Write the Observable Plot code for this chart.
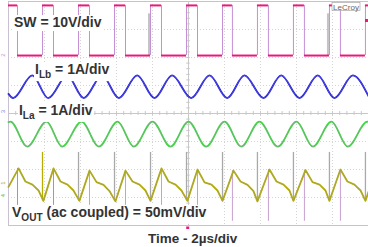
<!DOCTYPE html>
<html><head><meta charset="utf-8">
<script src="https://cdn.jsdelivr.net/npm/d3@7"></script>
<script src="https://cdn.jsdelivr.net/npm/@observablehq/plot@0.6"></script>
<style>body{margin:0;background:#fff;} svg{display:block}</style>
</head><body><div id="chart"></div>
<script>
// time in µs (2 µs/div, 10 div), amplitude in screen divisions (-4..4)
const swRise = [1.89, 3.89, 5.89, 7.89, 9.89, 11.89, 13.83, 15.83, 17.83, 19.83];
const swFall = [0.50, 2.50, 4.50, 6.50, 8.50, 10.50, 12.44, 14.44, 16.44, 18.44];
const swHigh = 3.86, swLow = 2.07;

const ilbPeakT = [1.32, 3.26, 5.20, 7.15, 9.09, 11.17, 13.11, 15.15, 17.18, 19.13];
const ilbTroughT = [0.26, 2.21, 4.18, 6.13, 8.11, 10.15, 12.15, 14.17, 16.17, 18.11];
const ilbPeak = 1.36, ilbTrough = 0.55, ilbStart = 0.70, ilbEnd = 0.62;

const ilaPeakT = [0.11, 2.11, 4.06, 6.06, 8.00, 10.00, 12.00, 13.94, 16.00, 17.94, 19.94];
const ilaTroughT = [1.04, 2.98, 5.02, 6.96, 9.00, 10.98, 12.93, 14.96, 16.91, 18.85];
const ilaPeak = -0.29, ilaTrough = -1.18, ilaStart = -0.31, ilaEnd = -0.30;

const voutT = [0,
  0.56, 0.94, 1.33, 1.67, 1.94,
  2.50, 2.89, 3.28, 3.61, 3.94,
  4.50, 4.89, 5.28, 5.61, 5.94,
  6.50, 6.89, 7.28, 7.61, 7.89,
  8.50, 8.89, 9.28, 9.61, 9.94,
  10.50, 10.89, 11.28, 11.61, 11.89,
  12.50, 12.89, 13.28, 13.61, 13.83,
  14.50, 14.89, 15.28, 15.61, 15.83,
  16.50, 16.89, 17.28, 17.61, 17.83,
  18.44, 18.83, 19.22, 19.56, 19.83,
  20];
const voutV = [-2.62,
  -1.96, -2.43, -2.54, -2.75, -3.12,
  -1.96, -2.43, -2.54, -2.75, -3.12,
  -2.04, -2.45, -2.55, -2.77, -3.14,
  -2.04, -2.43, -2.54, -2.75, -3.12,
  -1.96, -2.43, -2.54, -2.75, -3.12,
  -2.00, -2.46, -2.54, -2.75, -3.12,
  -2.04, -2.43, -2.55, -2.77, -3.14,
  -2.00, -2.43, -2.54, -2.75, -3.12,
  -2.02, -2.45, -2.54, -2.75, -3.12,
  -2.00, -2.43, -2.54, -2.75, -3.12,
  -2.80];
const spikeUpTop = -1.39, spikeDownBottom = -3.85;

// ---- derived tables ----
const swHighSeg = [{a: 0, b: swFall[0]}];
swRise.forEach((r, i) => swHighSeg.push({a: r, b: i + 1 < swFall.length ? swFall[i + 1] : 20}));
const swLowSeg = swFall.map((f, i) => ({a: f, b: swRise[i]}));
const swEdges = [...swRise, ...swFall];

function wave(peaksT, troughsT, pk, tr, s, e) {
  const pts = [{t: 0, v: s}];
  peaksT.forEach(t => pts.push({t, v: pk}));
  troughsT.forEach(t => pts.push({t, v: tr}));
  pts.push({t: 20, v: e});
  return pts.sort((p, q) => p.t - q.t);
}
const ilb = wave(ilbPeakT, ilbTroughT, ilbPeak, ilbTrough, ilbStart, ilbEnd);
const ila = wave(ilaPeakT, ilaTroughT, ilaPeak, ilaTrough, ilaStart, ilaEnd);
const vout = voutT.map((t, i) => ({t, v: voutV[i]}));
const troughAt = t => { let best = vout[0]; vout.forEach(p => { if (Math.abs(p.t - t) < Math.abs(best.t - t)) best = p; }); return best.v; };
const spikesUp = swRise.map((t, i) => ({t, v1: troughAt(t), v2: spikeUpTop, i}));
const spikesDown = swFall.map((t, i) => ({t, v1: troughAt(t), v2: spikeDownBottom, i}));

const gridX = d3.range(2, 20, 2);
const gridY = d3.range(-3, 4, 1);
const minorX = d3.range(0, 20.01, 0.4);
const minorY = d3.range(-4, 4.01, 0.2);

const chart = Plot.plot({
  width: 368, height: 247,
  marginLeft: 8, marginRight: 0, marginTop: 1, marginBottom: 22,
  x: {domain: [0, 20], axis: null},
  y: {domain: [-4, 4], axis: null},
  marks: [
    Plot.ruleX(gridX, {stroke: "#d4d4d4", strokeDasharray: "1,2"}),
    Plot.ruleY(gridY, {stroke: "#d4d4d4", strokeDasharray: "1,2"}),
    Plot.ruleY([0], {stroke: "#c8c8c8"}),
    Plot.ruleX([10], {stroke: "#c8c8c8"}),
    Plot.ruleX(minorX, {y1: -0.07, y2: 0.07, stroke: "#c8c8c8"}),
    Plot.ruleY(minorY, {x1: 9.9, x2: 10.1, stroke: "#c8c8c8"}),
    Plot.frame({stroke: "#c9c0d2"}),
    // SW
    Plot.ruleX([swRise[3], swRise[8]], {y1: swLow, y2: swHigh - 0.3, stroke: "#c4c4c4", strokeWidth: 2, dx: -1.5}),
    Plot.ruleX(swEdges, {y1: swLow, y2: swHigh, stroke: "#c58fd6", strokeWidth: 1}),
    Plot.ruleY(swHighSeg, {x1: "a", x2: "b", y: swHigh, stroke: "#e8197d", strokeWidth: 2}),
    Plot.ruleY(swLowSeg, {x1: "a", x2: "b", y: swLow, stroke: "#e8197d", strokeWidth: 2}),
    // ILb
    Plot.line(ilb, {x: "t", y: "v", curve: "monotone-x", stroke: "#1818d8", strokeWidth: 1.8}),
    Plot.line(ilb, {x: "t", y: "v", curve: "monotone-x", stroke: "#b0a0d0", strokeWidth: 0.7, strokeOpacity: 0.5}),
    // ILa
    Plot.line(ila, {x: "t", y: "v", curve: "monotone-x", stroke: "#3ee03e", strokeWidth: 1.8}),
    Plot.line(ila, {x: "t", y: "v", curve: "monotone-x", stroke: "#9a90a8", strokeWidth: 0.8, strokeOpacity: 0.8}),
    // VOUT spikes
    Plot.ruleX(spikesUp, {x: "t", y1: "v1", y2: "v2", stroke: d => d.i === 0 ? "#b5ad00" : "#a9a9a9", strokeWidth: 1.3}),
    Plot.ruleX(spikesDown, {x: "t", y1: "v1", y2: "v2", stroke: d => d.i < 2 ? "#b5ad00" : "#c8a0d0", strokeWidth: 1, strokeDasharray: d => d.i < 2 ? null : "2,1.5"}),
    // VOUT
    Plot.line(vout, {x: "t", y: "v", stroke: "#b5ad00", strokeWidth: 1.8}),
    Plot.line(vout, {x: "t", y: "v", stroke: "#9a9a9a", strokeWidth: 0.7, strokeOpacity: 0.6}),
  ]
});
document.getElementById("chart").appendChild(chart);

const sx = chart.scale("x"), sy = chart.scale("y");
const svg = d3.select(chart);
const FONT = "'Liberation Sans', Arial, sans-serif";

function label(t, v, parts, size = 14, box = true) {
  const g = svg.append("g");
  const txt = g.append("text")
    .attr("x", sx.apply(t)).attr("y", sy.apply(v))
    .attr("text-anchor", "start")
    .attr("font-family", FONT).attr("font-weight", "bold")
    .attr("font-size", size).attr("fill", "#333");
  let lowered = false;
  parts.forEach(p => {
    const ts = txt.append("tspan").text(p.s);
    if (p.sub && !lowered) { ts.attr("font-size", size * 0.72).attr("dy", 4); lowered = true; }
    else if (!p.sub && lowered) { ts.attr("dy", -4); lowered = false; }
  });
  if (box) {
    const bb = txt.node().getBBox();
    g.insert("rect", "text").attr("x", bb.x - 1).attr("y", bb.y + 1)
      .attr("width", bb.width + 2).attr("height", bb.height).attr("fill", "#fff");
  }
}
label(0.33, 3.07, [{s: "SW = 10V/div"}]);
label(1.5, 1.39, [{s: "I"}, {s: "Lb", sub: true}, {s: " = 1A/div"}]);
label(0.61, -0.07, [{s: "I"}, {s: "La", sub: true}, {s: " = 1A/div"}]);
label(0.22, -3.71, [{s: "V"}, {s: "OUT", sub: true}, {s: " (ac coupled) = 50mV/div"}]);
label(7.78, -4.66, [{s: "Time - 2µs/div"}], 13.5, false);

// LeCroy badge
const lg = svg.append("g");
lg.append("rect").attr("x", sx.apply(18.0)).attr("y", 2.5).attr("width", 28).attr("height", 8)
  .attr("fill", "#fff").attr("stroke", "#999").attr("stroke-width", 0.6);
lg.append("text").attr("x", sx.apply(18.0) + 14).attr("y", 9.5).attr("text-anchor", "middle")
  .attr("font-family", FONT).attr("font-size", 8).attr("fill", "#666").text("LeCroy");

// channel markers and trigger markers
const mk = [{v: 2.07, s: "2", c: "#c58fd6"}, {v: 0.05, s: "3", c: "#8080c0"}, {v: -2.5, s: "1", c: "#a0a040"}, {v: -2.95, s: "4", c: "#40c040"}];
mk.forEach(m => {
  svg.append("text").attr("transform", `translate(5,${sy.apply(m.v)}) rotate(-90)`)
    .attr("font-family", FONT).attr("font-size", 6).attr("fill", m.c).attr("text-anchor", "middle").text(m.s);
});
svg.append("rect").attr("x", sx.apply(9.9)).attr("y", 226.5).attr("width", 3).attr("height", 2.5).attr("fill", "#e8197d");
svg.append("rect").attr("x", 365).attr("y", 19).attr("width", 3).attr("height", 3).attr("fill", "#e8197d");
</script></body></html>
